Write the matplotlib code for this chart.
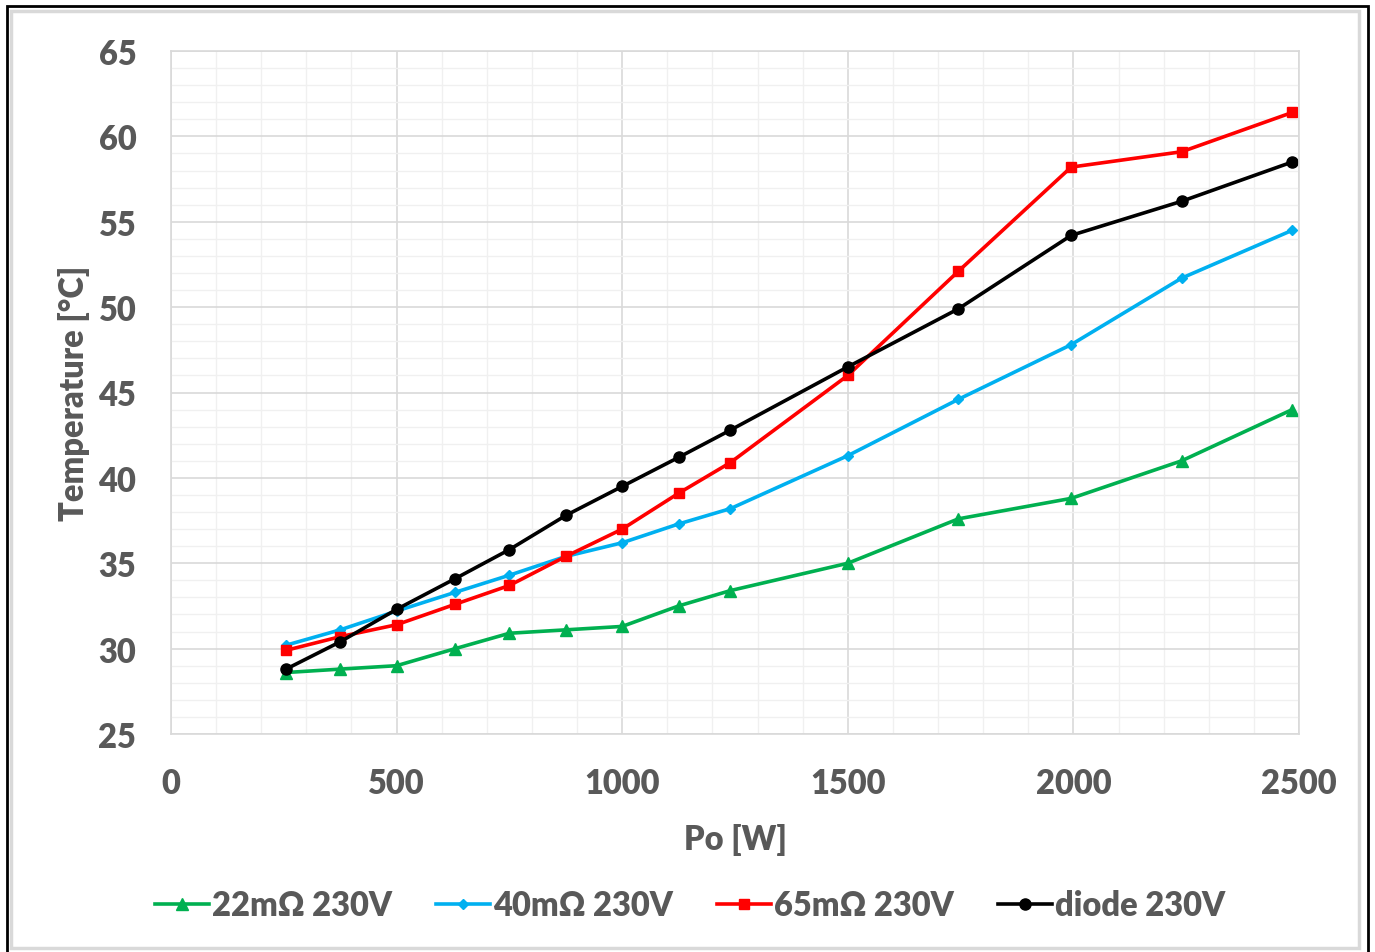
import numpy as np
import matplotlib.pyplot as plt
from matplotlib.patches import Rectangle
from matplotlib.ticker import MultipleLocator

plt.rcParams['font.family'] = ['Lato', 'DejaVu Sans']
plt.rcParams['font.weight'] = 'heavy'

# data
po = [255, 375, 500, 630, 750, 875, 1000, 1125, 1240, 1500, 1745, 1995, 2240, 2485]
t_22 = [28.6, 28.8, 29.0, 30.0, 30.9, 31.1, 31.3, 32.5, 33.4, 35.0, 37.6, 38.8, 41.0, 44.0]
t_40 = [30.2, 31.1, 32.2, 33.3, 34.3, 35.4, 36.2, 37.3, 38.2, 41.3, 44.6, 47.8, 51.7, 54.5]
t_65 = [29.9, 30.7, 31.4, 32.6, 33.7, 35.4, 37.0, 39.1, 40.9, 46.0, 52.1, 58.2, 59.1, 61.4]
t_diode = [28.8, 30.4, 32.3, 34.1, 35.8, 37.8, 39.5, 41.2, 42.8, 46.5, 49.9, 54.2, 56.2, 58.5]
labels = ['22mΩ 230V', '40mΩ 230V', '65mΩ 230V', 'diode 230V']

txt = '#595959'
fs = 23.5

fig = plt.figure(figsize=(13.75, 9.53), dpi=100)
ax = fig.add_axes([171/1375, 1-735/953, 1128/1375, 683/953])

ax.plot(po, t_22, color='#00b050', lw=2.6, marker='^', ms=8, label=labels[0])
ax.plot(po, t_40, color='#00b0f0', lw=2.6, marker='D', ms=5.5, label=labels[1])
ax.plot(po, t_65, color='#ff0000', lw=2.6, marker='s', ms=6.5, label=labels[2])
ax.plot(po, t_diode, color='#000000', lw=2.6, marker='o', ms=8, label=labels[3])

ax.set_xlim(0, 2500)
ax.set_ylim(25, 65)
ax.xaxis.set_major_locator(MultipleLocator(500))
ax.xaxis.set_minor_locator(MultipleLocator(100))
ax.yaxis.set_major_locator(MultipleLocator(5))
ax.yaxis.set_minor_locator(MultipleLocator(1))
ax.grid(which='major', color='#d9d9d9', lw=1.2)
ax.grid(which='minor', color='#f0f0f0', lw=1.0)
ax.set_axisbelow(True)
for s in ax.spines.values():
    s.set_color('#d9d9d9')
    s.set_linewidth(1.2)
ax.tick_params(which='both', length=0)
ax.tick_params(axis='x', pad=24, labelsize=fs, labelcolor=txt)
ax.tick_params(axis='y', pad=25, labelsize=fs, labelcolor=txt)

ax.set_xlabel('Po [W]', fontsize=fs, color=txt, fontweight='heavy', labelpad=17)
ax.set_ylabel('Temperature [°C]', fontsize=fs, color=txt, fontweight='heavy', labelpad=6)

leg = fig.legend(loc='center', bbox_to_anchor=(0.502, 1-906/953), ncol=4, frameon=False,
                 fontsize=fs, handlelength=1.65, handletextpad=0.1, columnspacing=1.35)
for t in leg.get_texts():
    t.set_color(txt)

# chart borders
fig.patches.append(Rectangle((11/1375, 4/953), 1348/1375, 937/953, transform=fig.transFigure,
                             fill=False, ec='#d9d9d9', lw=2.5))
fig.patches.append(Rectangle((7/1375, -5/953), 1361/1375, 951/953, transform=fig.transFigure,
                             fill=False, ec='black', lw=2))

plt.savefig('out.png', dpi=100)
